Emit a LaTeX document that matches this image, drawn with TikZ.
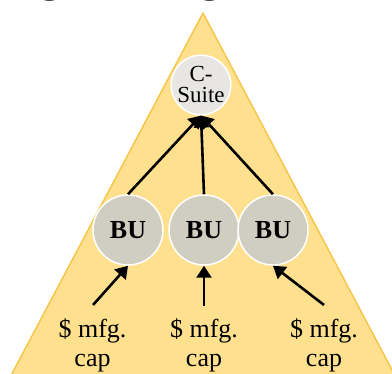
\documentclass[tikz,border=0pt]{standalone}
\usepackage{fontspec}
\setmainfont{Liberation Serif}
\usetikzlibrary{arrows.meta}

\definecolor{pyrfill}{RGB}{255,224,143}
\definecolor{pyredge}{RGB}{246,197,72}
\definecolor{csfill}{RGB}{231,230,226}
\definecolor{bufill}{RGB}{208,205,193}

\begin{document}
\begin{tikzpicture}[x=1pt,y=-1pt,
  csnode/.style={circle,draw=white,line width=1.5pt,fill=csfill,
    minimum size=59pt,inner sep=0pt,align=center,
    font=\fontsize{23}{21}\selectfont},
  bunit/.style={circle,draw=white,line width=1.5pt,fill=bufill,
    minimum size=70pt,inner sep=0pt,font=\fontsize{26}{26}\selectfont\bfseries},
  capnote/.style={align=center,inner sep=0pt,font=\fontsize{26}{29}\selectfont},
  feed/.style={line width=2.6pt,-{Triangle[length=12pt,width=15pt]}}
]
\useasboundingbox (0,0) rectangle (392,374);
\clip (0,0) rectangle (392,374);

% heading descenders peeking in at the top edge
\node[anchor=base,font=\fontsize{44}{44}\selectfont\bfseries] (h1) at (51,-8.5) {g};
\node[anchor=base,font=\fontsize{44}{44}\selectfont\bfseries] (h2) at (211,-8.5) {g};

% pyramid
\fill[pyrfill,draw=pyredge,line width=1.4pt,line join=round]
  (203,13) -- (408,400) -- (-2,400) -- cycle;

% nodes
\node[csnode] (cs) at (201,85) {C-\\Suite};
\node[bunit] (b1) at (128,230) {BU};
\node[bunit] (b2) at (204,230) {BU};
\node[bunit] (b3) at (273,230) {BU};

% base anchor sits on the last line
\node[capnote,anchor=base] (m1) at (92.5,367) {\$ mfg.\\cap};
\node[capnote,anchor=base] (m2) at (204,367) {\$ mfg.\\cap};
\node[capnote,anchor=base] (m3) at (324,367) {\$ mfg.\\cap};

% business units report up
\draw[feed] (b1.north) -- (cs.south);
\draw[feed] (b2.north) -- (cs.south);
\draw[feed] (b3.north) -- (cs.south);

% capacity feeds each unit
\coordinate (t1) at (93,305);
\coordinate (t2) at (204,306);
\coordinate (t3) at (324,305);
\draw[feed] (t1) -- (b1.south);
\draw[feed] (t2) -- (b2.south);
\draw[feed] (t3) -- (b3.south);
\end{tikzpicture}
\end{document}
